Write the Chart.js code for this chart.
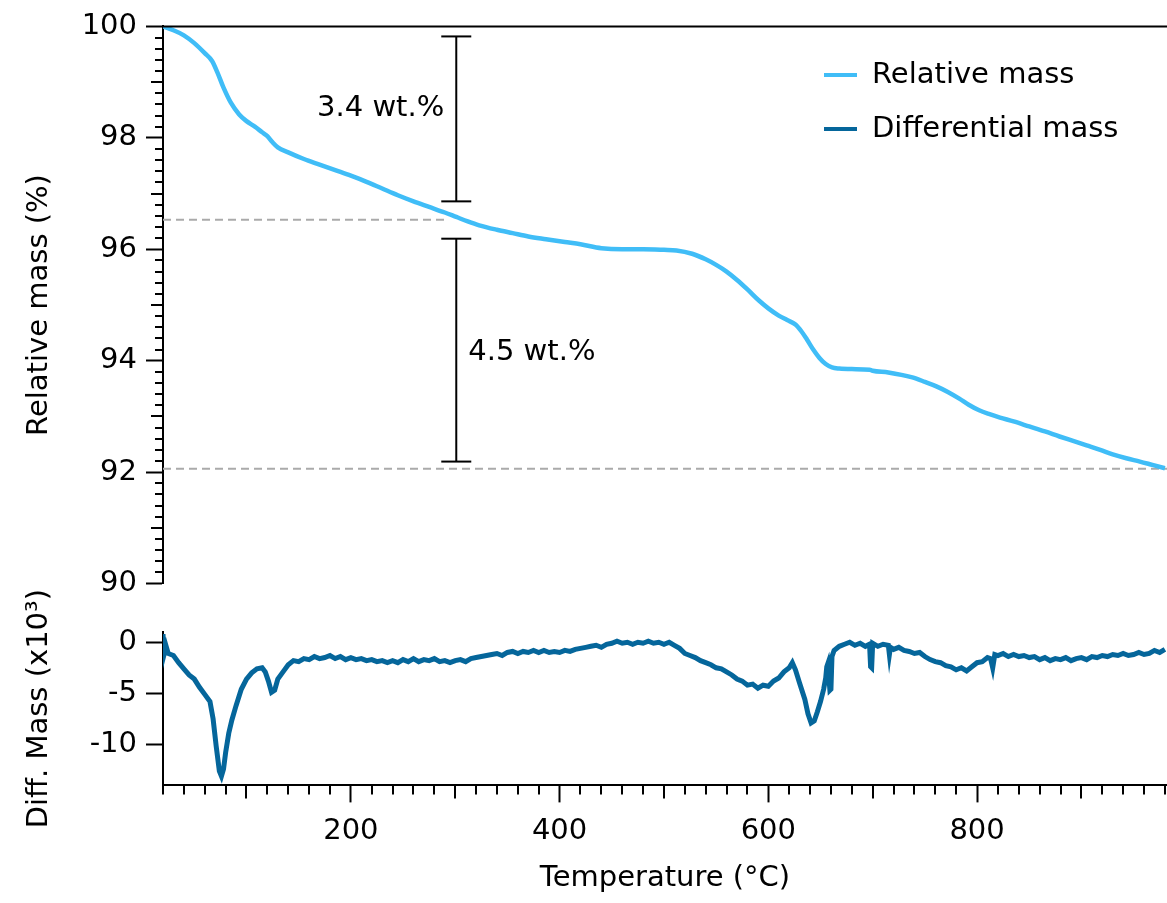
<!DOCTYPE html>
<html lang="en">
<head>
<meta charset="UTF-8">
<title>Thermogravimetric analysis</title>
<script src="https://cdn.jsdelivr.net/npm/chart.js@4.4.1/dist/chart.umd.min.js"></script>
<style>
  body { margin: 0; background: #fff; }
  #wrap { position: relative; width: 1167px; height: 903px; }
  #wrap canvas { position: absolute; left: 0; }
</style>
</head>
<body>
<div id="wrap">
  <canvas id="massChart" width="1167" height="610" style="top:0"></canvas>
  <canvas id="diffChart" width="1167" height="343" style="top:560px"></canvas>
</div>
<script>
// relative mass (%) vs temperature (C)
const massTemp = [20, 30, 40, 50, 60, 67, 72, 78, 85, 93, 100, 108, 115, 120, 125, 130, 140, 155, 170, 185,
  200, 215, 230, 245, 260, 275, 290, 301, 312, 323, 340, 355, 370, 387, 405, 420, 440, 460, 480, 500,
  512, 527, 540, 550, 560, 570, 580, 591, 600, 610, 618, 626, 632, 637, 643, 649, 655, 661, 668, 680,
  697, 700, 715, 738, 750, 761, 772, 783, 792, 802, 812, 822, 835, 850, 865, 879, 892, 905, 918, 930,
  943, 956, 968, 980];
const massValue = [100.00, 99.93, 99.84, 99.70, 99.52, 99.38, 99.18, 98.90, 98.63, 98.42, 98.30, 98.20, 98.10, 98.03, 97.92, 97.83, 97.74, 97.62, 97.52, 97.42,
  97.32, 97.21, 97.09, 96.97, 96.86, 96.76, 96.66, 96.58, 96.50, 96.43, 96.35, 96.29, 96.23, 96.18, 96.13, 96.09, 96.02, 96.00, 96.00, 95.99,
  95.98, 95.92, 95.82, 95.72, 95.60, 95.45, 95.28, 95.08, 94.94, 94.81, 94.73, 94.65, 94.52, 94.38, 94.20, 94.05, 93.94, 93.88, 93.86, 93.85,
  93.84, 93.82, 93.79, 93.70, 93.62, 93.54, 93.44, 93.32, 93.21, 93.11, 93.04, 92.98, 92.91, 92.82, 92.73, 92.64, 92.56, 92.48, 92.40, 92.32,
  92.25, 92.19, 92.13, 92.07];

// differential mass (x10^3) vs temperature (C)
const diffTemp = [20, 21, 23, 25, 30, 35, 40, 45, 50, 55, 60, 65, 68, 71, 74, 76, 78, 80, 83, 86,
  90, 95, 100, 105, 110, 115, 118, 121, 124, 127, 130, 135, 140, 145, 150, 155, 160, 165, 170, 175,
  180, 185, 190, 195, 200, 205, 210, 215, 220, 225, 230, 235, 240, 245, 250, 255, 260, 265, 270, 275,
  280, 285, 290, 295, 300, 305, 310, 315, 320, 325, 330, 335, 340, 345, 350, 355, 360, 365, 370, 375,
  380, 385, 390, 395, 400, 405, 410, 415, 420, 425, 430, 435, 440, 445, 450, 455, 460, 465, 470, 475,
  480, 485, 490, 495, 500, 505, 510, 515, 520, 525, 530, 535, 540, 545, 550, 555, 560, 565, 570, 575,
  580, 585, 590, 595, 600, 605, 610, 615, 620, 623, 626, 630, 635, 638, 641, 644, 647, 650, 653, 655,
  656, 657, 659, 660, 661, 663, 668, 673, 678, 683, 688, 693, 697, 698, 699, 700, 705, 710, 715, 716,
  717, 720, 725, 730, 735, 740, 745, 750, 755, 760, 765, 770, 775, 780, 785, 790, 795, 800, 805, 810,
  813, 815, 817, 820, 825, 830, 835, 840, 845, 850, 855, 860, 865, 870, 875, 880, 885, 890, 895, 900,
  905, 910, 915, 920, 925, 930, 935, 940, 945, 950, 955, 960, 965, 970, 975, 980];
const diffValue = [0.8, -1.2, -0.4, -1.1, -1.3, -2.0, -2.6, -3.2, -3.6, -4.4, -5.1, -5.8, -7.5, -10.2, -12.6, -13.1, -12.4, -10.8, -8.9, -7.6,
  -6.2, -4.6, -3.6, -3.0, -2.6, -2.5, -2.9, -3.8, -4.9, -4.7, -3.6, -2.9, -2.2, -1.8, -1.9, -1.6, -1.7, -1.4, -1.6, -1.5,
  -1.3, -1.6, -1.4, -1.7, -1.5, -1.7, -1.6, -1.8, -1.7, -1.9, -1.8, -2.0, -1.8, -2.0, -1.7, -1.9, -1.6, -1.9, -1.7, -1.8,
  -1.6, -1.9, -1.8, -2.0, -1.8, -1.7, -1.9, -1.6, -1.5, -1.4, -1.3, -1.2, -1.1, -1.3, -1.0, -0.9, -1.1, -0.9, -1.0, -0.8,
  -1.0, -0.8, -1.0, -0.9, -1.0, -0.8, -0.9, -0.7, -0.6, -0.5, -0.4, -0.3, -0.5, -0.2, -0.1, 0.1, -0.1, 0.0, -0.2, 0.0,
  -0.1, 0.1, -0.1, 0.0, -0.2, 0.0, -0.3, -0.6, -1.1, -1.3, -1.5, -1.8, -2.0, -2.2, -2.5, -2.6, -2.9, -3.2, -3.6, -3.8,
  -4.2, -4.1, -4.5, -4.2, -4.3, -3.8, -3.5, -2.9, -2.5, -2.0, -2.7, -4.0, -5.6, -7.0, -7.9, -7.7, -6.8, -5.8, -4.6, -3.5,
  -2.4, -2.1, -4.7, -4.6, -1.4, -0.8, -0.4, -0.2, 0.0, -0.3, -0.1, -0.4, -0.2, -2.4, -2.5, -0.1, -0.4, -0.2, -0.3, -1.2,
  -0.5, -0.7, -0.5, -0.8, -0.9, -1.1, -1.0, -1.4, -1.7, -1.9, -2.0, -2.3, -2.4, -2.7, -2.5, -2.8, -2.4, -2.0, -1.9, -1.5,
  -1.6, -2.5, -1.2, -1.3, -1.1, -1.4, -1.2, -1.4, -1.3, -1.5, -1.4, -1.7, -1.5, -1.8, -1.6, -1.7, -1.5, -1.8, -1.6, -1.5,
  -1.7, -1.4, -1.5, -1.3, -1.4, -1.2, -1.3, -1.1, -1.3, -1.2, -1.0, -1.2, -1.1, -0.8, -1.0, -0.7];

const massTicks = [90, 92, 94, 96, 98, 100];
const diffTicks = [-10, -5, 0];
const tempTicks = [200, 400, 600, 800];

// mass-loss steps: dashed reference levels and the two brackets
const stepLevels = [96.53, 92.06];
const stepLevelEnd = [292, 982];
const bracketTemp = 301;
const bracketTop = [99.82, 96.19];
const bracketBottom = [96.86, 92.19];
const bracketLabels = ['3.4 wt.%', '4.5 wt.%'];
const bracketLabelAt = [98.53, 94.14];

const FONT = 'DejaVu Sans';
const lightBlue = '#40bdf7';
const darkBlue = '#05669b';

Chart.defaults.font.family = FONT;
Chart.defaults.color = '#000';

function drawLine(ctx, x1, y1, x2, y2) {
  ctx.beginPath();
  ctx.moveTo(x1, y1);
  ctx.lineTo(x2, y2);
  ctx.stroke();
}

const massDecor = {
  id: 'massDecor',
  beforeDatasetsDraw(chart) {
    const ctx = chart.ctx, x = chart.scales.x, y = chart.scales.y;
    ctx.save();
    ctx.strokeStyle = '#aaaaaa';
    ctx.lineWidth = 2;
    ctx.setLineDash([8, 5]);
    stepLevels.forEach((v, i) => {
      drawLine(ctx, x.getPixelForValue(20), y.getPixelForValue(v), x.getPixelForValue(stepLevelEnd[i]), y.getPixelForValue(v));
    });
    ctx.restore();
  },
  afterDatasetsDraw(chart) {
    const ctx = chart.ctx, x = chart.scales.x, y = chart.scales.y;
    const area = chart.chartArea;
    ctx.save();
    ctx.strokeStyle = '#000';
    ctx.lineWidth = 2;
    // top frame line
    drawLine(ctx, area.left - 1, area.top, area.right, area.top);
    // minor ticks on the y axis
    for (let i = 0; i <= 50; i++) {
      const v = 90 + i * 0.2;
      if (i % 10 === 0) continue;
      const len = i % 5 === 0 ? 12 : 8;
      const py = Math.round(y.getPixelForValue(v));
      drawLine(ctx, area.left - len, py, area.left, py);
    }
    // brackets
    const bx = x.getPixelForValue(bracketTemp);
    ctx.font = '29px "' + FONT + '"';
    ctx.fillStyle = '#000';
    ctx.textBaseline = 'middle';
    bracketTop.forEach((v, i) => {
      const t = y.getPixelForValue(v), b = y.getPixelForValue(bracketBottom[i]);
      drawLine(ctx, bx, t, bx, b);
      drawLine(ctx, bx - 15, t, bx + 15, t);
      drawLine(ctx, bx - 15, b, bx + 15, b);
      const ly = y.getPixelForValue(bracketLabelAt[i]);
      if (i === 0) { ctx.textAlign = 'right'; ctx.fillText(bracketLabels[i], bx - 12, ly); }
      else { ctx.textAlign = 'left'; ctx.fillText(bracketLabels[i], bx + 12, ly); }
    });
    // legend
    ctx.font = '29px "' + FONT + '"';
    ctx.textAlign = 'left';
    [['Relative mass', lightBlue, 75], ['Differential mass', darkBlue, 129]].forEach(([label, color, ly]) => {
      ctx.strokeStyle = color;
      ctx.lineWidth = 4;
      drawLine(ctx, 824, ly, 857, ly);
      ctx.fillText(label, 872, ly);
    });
    ctx.restore();
  }
};

const diffDecor = {
  id: 'diffDecor',
  afterDatasetsDraw(chart) {
    const ctx = chart.ctx, x = chart.scales.x;
    const area = chart.chartArea;
    ctx.save();
    ctx.strokeStyle = '#000';
    ctx.lineWidth = 2;
    for (let i = 1; i <= 49; i++) {
      const t = i * 20;
      if (t % 200 === 0) continue;
      const len = t % 100 === 0 ? 13 : 9;
      const px = Math.round(x.getPixelForValue(t));
      drawLine(ctx, px, area.bottom, px, area.bottom + len);
    }
    ctx.restore();
  }
};

const axisGrid = { display: true, drawOnChartArea: false, drawTicks: true, tickLength: 17, tickColor: '#000', tickWidth: 2 };
const axisBorder = { display: true, color: '#000', width: 2 };

new Chart(document.getElementById('massChart'), {
  type: 'line',
  data: {
    datasets: [{
      label: 'Relative mass',
      data: massTemp.map((t, i) => ({ x: t, y: massValue[i] })),
      borderColor: lightBlue,
      borderWidth: 4.5,
      pointRadius: 0,
      cubicInterpolationMode: 'monotone'
    }]
  },
  options: {
    responsive: false,
    animation: false,
    layout: { padding: { top: 24, bottom: 16, left: 0, right: 0 } },
    plugins: { legend: { display: false }, tooltip: { enabled: false } },
    scales: {
      x: { type: 'linear', min: 20, max: 982, display: false },
      y: {
        min: 90, max: 100,
        afterBuildTicks: s => { s.ticks = massTicks.map(v => ({ value: v })); },
        afterFit: s => { s.width = 163; },
        grid: axisGrid,
        border: axisBorder,
        ticks: { font: { size: 29 }, padding: 9, color: '#000' },
        title: { display: true, text: 'Relative mass (%)', font: { size: 29 }, padding: { top: 22 }, color: '#000' }
      }
    }
  },
  plugins: [massDecor]
});

new Chart(document.getElementById('diffChart'), {
  type: 'line',
  data: {
    datasets: [{
      label: 'Differential mass',
      data: diffTemp.map((t, i) => ({ x: t, y: diffValue[i] })),
      borderColor: darkBlue,
      borderWidth: 5,
      pointRadius: 0,
      tension: 0
    }]
  },
  options: {
    responsive: false,
    animation: false,
    layout: { padding: { top: 72, bottom: 7, left: 0, right: 0 } },
    plugins: { legend: { display: false }, tooltip: { enabled: false } },
    scales: {
      x: {
        type: 'linear', min: 20, max: 982,
        afterBuildTicks: s => { s.ticks = tempTicks.map(v => ({ value: v })); },
        grid: axisGrid,
        border: axisBorder,
        ticks: { font: { size: 29 }, padding: 12, color: '#000', maxRotation: 0 },
        title: { display: true, text: 'Temperature (°C)', font: { size: 29 }, padding: { top: 0, bottom: 0 }, color: '#000' }
      },
      y: {
        min: -14, max: 1,
        afterBuildTicks: s => { s.ticks = diffTicks.map(v => ({ value: v })); },
        afterFit: s => { s.width = 163; },
        grid: axisGrid,
        border: axisBorder,
        ticks: { font: { size: 29 }, padding: 9, color: '#000' },
        title: { display: true, text: 'Diff. Mass (x10³)', font: { size: 29 }, padding: { top: 22 }, color: '#000' }
      }
    }
  },
  plugins: [diffDecor]
});
</script>
</body>
</html>
